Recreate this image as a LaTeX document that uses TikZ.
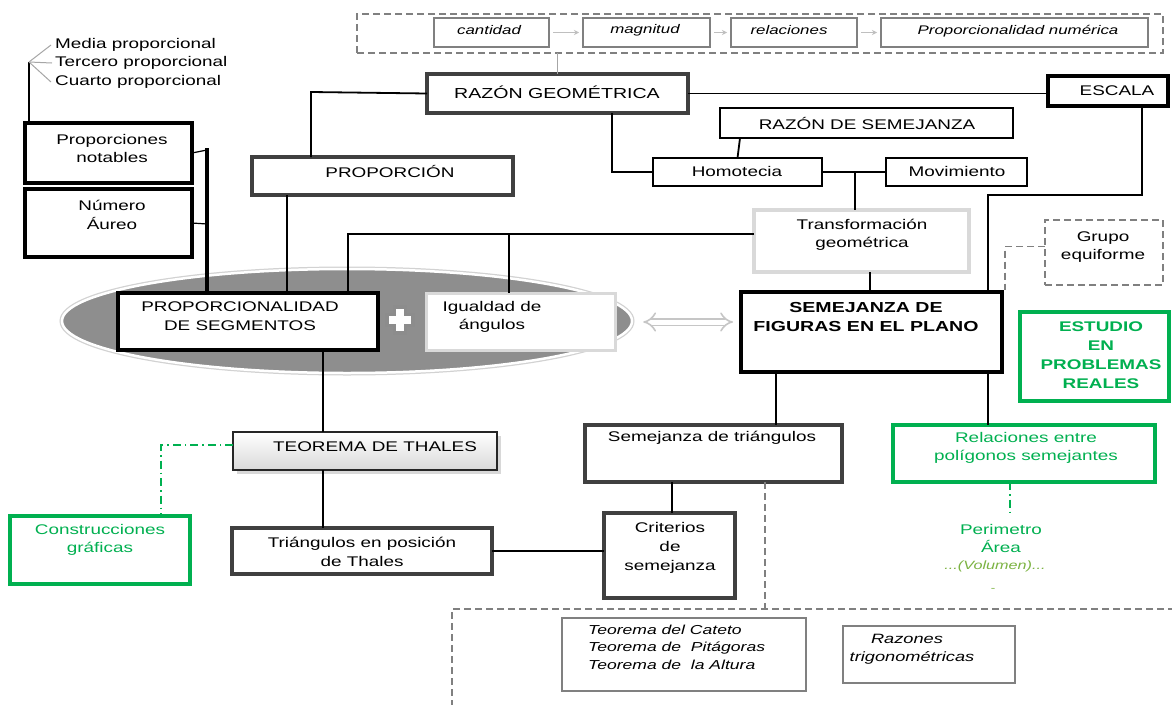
\documentclass[tikz,border=0pt]{standalone}
\usepackage{fontspec}
\setmainfont[FakeStretch=1.35]{Liberation Sans}
\usetikzlibrary{arrows.meta,shapes.geometric,shadows,calc}
\definecolor{darkline}{HTML}{404040}
\definecolor{paleline}{HTML}{D9D9D9}
\definecolor{leafgreen}{HTML}{00B050}
\definecolor{limegreen}{HTML}{7CB342}
\definecolor{linkblue}{HTML}{5B7FA8}
\definecolor{ovalgrey}{HTML}{8E8E8E}
\newcommand\txtsize[1]{\fontsize{#1}{18.5}\selectfont}
\tikzset{
  frame/.style={rectangle, inner sep=0pt, outer sep=0pt},
  heavyfr/.style={frame, draw=black, line width=4.5pt},
  darkfr/.style={frame, draw=darkline, line width=3.5pt},
  thinfr/.style={frame, draw=black, line width=1.8pt},
  palefr/.style={frame, draw=paleline, line width=4pt},
  greenfr/.style={frame, draw=leafgreen, line width=3.5pt},
  greyfr/.style={frame, draw=gray, line width=1.2pt},
  dashfr/.style={frame, draw=gray, line width=1.5pt, dash pattern=on 7pt off 4pt},
  txt/.style={inner sep=0pt, align=center, font=\txtsize{14}},
  itxt/.style={inner sep=0pt, align=center, font=\txtsize{12.5}\itshape},
  link/.style={draw=black, line width=1.8pt},
  heavylink/.style={draw=black, line width=4pt},
  paleln/.style={draw=gray!70, line width=1pt},
  dashln/.style={draw=gray, line width=1.5pt, dash pattern=on 7pt off 4pt},
  greendot/.style={draw=leafgreen, line width=1.5pt, dash pattern=on 8pt off 4pt on 1.5pt off 4pt},
  tinyarrow/.style={draw=gray!50, line width=1pt, -{Stealth[length=5pt,width=5pt]}, shorten <=4pt, shorten >=4pt},
}
\begin{document}
\begin{tikzpicture}[x=1pt,y=-1pt]
\useasboundingbox (0,0) rectangle (1172,704);
\clip (0,0) rectangle (1172,704);
\fill[white] (0,0) rectangle (1172,704);

% chain of notions at the top
\node[dashfr, minimum width=806pt, minimum height=39pt] (topgrp) at (760,33.5) {};
\node[greyfr, minimum width=115pt, minimum height=29pt] (cant) at (491.5,32.5) {};
\node[greyfr, minimum width=127pt, minimum height=29pt] (magn) at (646.5,32.5) {};
\node[greyfr, minimum width=126pt, minimum height=29pt] (rel) at (794,32.5) {};
\node[greyfr, minimum width=267pt, minimum height=29pt] (pnum) at (1014.5,32.5) {};
\node[itxt] (t-cant) at (489,30) {cantidad};
\node[itxt] (t-magn) at (645,30) {magnitud};
\node[itxt] (t-rel) at (789,30) {relaciones};
\node[itxt] (t-pnum) at (1018,31) {Proporcionalidad numérica};
\draw[tinyarrow] (cant.east) -- (magn.west);
\draw[tinyarrow] (magn.east) -- (rel.west);
\draw[tinyarrow] (rel.east) -- (pnum.west);

% notable proportions
\node[txt, anchor=west] (media) at (55,45) {Media proporcional};
\node[txt, anchor=west] (tercero) at (55,63) {Tercero proporcional};
\node[txt, anchor=west] (cuarto) at (55,82) {Cuarto proporcional};
\node[heavyfr, line width=4pt, minimum width=167pt, minimum height=60pt] (notab) at (108.5,153) {};
\node[heavyfr, line width=4pt, minimum width=167pt, minimum height=68pt] (aureo) at (108.5,223) {};
\node[txt] (t-notab) at (112,148.5) {Proporciones\\notables};
\node[txt] (t-aureo) at (112,215) {Número\\Áureo};
\coordinate (fork) at (29,62);
\draw[link, line width=1.5pt] (notab.north -| fork) -- (fork);
\draw[paleln] (fork) -- ($(media.west)+(-4,0)$);
\draw[paleln] (fork) -- ($(tercero.west)+(-3,0)$);
\draw[paleln] (fork) -- ($(cuarto.west)+(-4,0)$);

% ratio and proportion
\node[darkfr, minimum width=261pt, minimum height=39pt] (razon) at (557.5,93.5) {};
\node[txt, font=\txtsize{14.5}] (t-razon) at (557,92) {RAZÓN GEOMÉTRICA};
\node[darkfr, minimum width=261pt, minimum height=38pt] (prop) at (382.5,176) {};
\node[txt] (t-prop) at (390,171) {PROPORCIÓN};
\node[heavyfr, line width=4pt, minimum width=120pt, minimum height=30pt] (escala) at (1108,91) {};
\node[txt] (t-escala) at (1117,91) {ESCALA};
\node[thinfr, minimum width=293pt, minimum height=30pt] (rds) at (866.5,123) {};
\node[txt] (t-rds) at (867,123) {RAZÓN DE SEMEJANZA};
\node[thinfr, minimum width=169pt, minimum height=28pt] (homot) at (737.5,172) {};
\node[txt] (t-homot) at (737,171) {Homotecia};
\node[thinfr, minimum width=141pt, minimum height=28pt] (mov) at (956.5,172) {};
\node[txt] (t-mov) at (957,171) {Movimiento};
\node[palefr, minimum width=215pt, minimum height=62pt] (trans) at (861.5,241) {};
\node[txt] (t-trans) at (862,235) {Transformación\\geométrica};
\node[dashfr, minimum width=118pt, minimum height=65pt] (grupo) at (1104,252.5) {};
\node[txt] (t-grupo) at (1103,247) {Grupo\\equiforme};

% central oval
\node[ellipse, minimum width=570pt, minimum height=104pt, fill=ovalgrey, draw=white, line width=2.5pt,
      preaction={draw=gray!35, line width=5pt}] (oval) at (347,321) {};
\node[heavyfr, fill=white, minimum width=260pt, minimum height=57pt] (propseg) at (248,321.5) {};
\node[txt] (t-propseg) at (240,316) {PROPORCIONALIDAD\\DE SEGMENTOS};
\node[frame, fill=white, draw=paleline, line width=3pt, minimum width=189pt, minimum height=57pt] (igual) at (520.5,321.5) {};
\node[txt] (t-igual) at (492,317) {Igualdad de\\ángulos};
\draw[draw=gray!90, fill=white, line width=3.5pt, shift={(400,320)}]
  (-5.5,-13) -- (5.5,-13) -- (5.5,-5.5) -- (13,-5.5) -- (13,5.5) -- (5.5,5.5) -- (5.5,13)
  -- (-5.5,13) -- (-5.5,5.5) -- (-13,5.5) -- (-13,-5.5) -- (-5.5,-5.5) -- cycle;

% similar figures
\node[heavyfr, fill=white, minimum width=261pt, minimum height=80pt] (sem) at (871.5,332) {};
\node[txt, font=\txtsize{14.5}\bfseries] (t-sem) at (866,317) {SEMEJANZA DE\\FIGURAS EN EL PLANO};
\node[greenfr, minimum width=149pt, minimum height=89pt] (estudio) at (1094.5,356.5) {};
\node[txt, font=\fontsize{14}{19}\selectfont\bfseries, text=leafgreen] (t-estudio) at (1101,355.5) {ESTUDIO\\EN\\PROBLEMAS\\REALES};
\draw[draw=gray!45, line width=1.6pt, double=white, double distance=5pt, {Implies}-{Implies}]
  ($(oval.east)+(10,1)$) -- ($(sem.west)+(-8,-10)$);

% Thales branch
\node[frame, draw=black!85, line width=2pt, top color=white, bottom color=gray!30,
      drop shadow={shadow xshift=4pt, shadow yshift=-4pt, opacity=0.3},
      minimum width=264pt, minimum height=38pt] (thales) at (365,451) {};
\node[txt] (t-thales) at (375,447) {TEOREMA DE THALES};
\node[greenfr, minimum width=180pt, minimum height=68pt] (constr) at (100,550) {};
\node[txt, text=leafgreen] (t-constr) at (100,540) {Construcciones\\gráficas};
\node[darkfr, minimum width=260pt, minimum height=46pt] (triang) at (362,551) {};
\node[txt] (t-triang) at (362,552) {Triángulos en posición\\de Thales};

% triangles branch
\node[darkfr, minimum width=257pt, minimum height=57pt] (semtri) at (713.5,453.5) {};
\node[txt] (t-semtri) at (712,438) {Semejanza de triángulos};
\node[darkfr, minimum width=131pt, minimum height=85pt] (crit) at (669.5,555.5) {};
\node[txt, font=\fontsize{14}{19}\selectfont] (t-crit) at (670,548) {Criterios\\de\\semejanza};
\node[greenfr, minimum width=262pt, minimum height=57pt] (relac) at (1024,453.5) {};
\node[txt, text=leafgreen] (t-relac) at (1026,448) {Relaciones entre\\polígonos semejantes};
\node[txt, text=leafgreen] (t-perim) at (1001,538.5) {Perimetro\\Área};
\node[itxt, font=\txtsize{12}\itshape, text=limegreen] (t-vol) at (995,566) {...(Volumen)...};
\node[txt, font=\txtsize{10}, text=limegreen] (t-dash) at (993,590) {-};

% theorems at the bottom
\node[dashfr, minimum width=728pt, minimum height=103pt] (bgrp) at (816,660.5) {};
\node[greyfr, minimum width=244pt, minimum height=73pt] (teor) at (684,654.5) {};
\node[itxt, font=\fontsize{13}{17.5}\selectfont\itshape, align=left, anchor=west] (t-teor) at (588,647)
  {Teorema del Cateto\\Teorema de~ Pitágoras\\Teorema de~ la Altura};
\node[greyfr, minimum width=172pt, minimum height=57pt] (trig) at (929,654.5) {};
\node[itxt, font=\fontsize{13.5}{18}\selectfont\itshape] (t-trig) at (912,649) {\hspace*{-10pt}Razones\\trigonométricas};

% junction points of the connectors
\coordinate (jprop) at (311,92);
\coordinate (jhom) at (612,150);
\coordinate (jmov) at (855,172);
\coordinate (jtr) at (348,234);
\coordinate (jig) at (509,234);
\coordinate (jsem) at (870,280);
\coordinate (jesc) at (1142,195);
\coordinate (jsemr) at (988,195);
\coordinate (jgrp) at (1005,290);
\coordinate (jleft) at (207,148);
\coordinate (jpp) at (287,250);
\coordinate (jth) at (323,400);
\coordinate (jco) at (161,445);
\coordinate (jst) at (776,400);
\coordinate (jcr) at (672,500);
\coordinate (jbt) at (765,540);
\coordinate (jre) at (1010,512);

% connectors
\draw[paleln] (razon.north |- topgrp.south) -- (razon.north);
\draw[link] (razon.west) -- (jprop) -- (jprop |- prop.north);
\draw[link] (razon.south -| jhom) |- (homot.west);
\draw[link] (razon.east) -- (razon.east -| escala.west);
\draw[link] ($(rds.south west)+(20,0)$) -- (homot.north);
\draw[link] (homot.east) -- (mov.west);
\draw[link] (jmov) -- (jmov |- trans.north);
\draw[link] (jtr -| trans.west) -- (jtr) -- (jtr |- propseg.north);
\draw[link] (jig) -- (jig |- igual.north);
\draw[link] (trans.south -| jsem) -- (jsem |- sem.north);
\draw[link] (escala.south -| jesc) -- (jesc) -- (jsemr) -- (jsemr |- sem.north);
\draw[link] (sem.south -| jsemr) -- (jsemr |- relac.north);
\draw[dashln] ($(grupo.west)+(0,-6)$) -| (jgrp);
\draw[draw=linkblue, line width=1.2pt] ($(sem.east)+(0,-12)$) -- ($(sem.east)+(0,-12)$ -| estudio.west);
\draw[heavylink] (jleft) -- (jleft |- propseg.north);
\draw[link, line width=1.2pt] (notab.east) -- ($(jleft)+(0,2)$);
\draw[link, line width=1.2pt] (aureo.east) -- ($(jleft)+(0,76)$);
\draw[link] (prop.south -| jpp) -- (jpp |- propseg.north);
\draw[link] (propseg.south -| jth) -- (jth |- thales.north);
\draw[link] (thales.south -| jth) -- (jth |- triang.north);
\draw[greendot] (jco -| thales.west) -- (jco) -- (jco |- constr.north);
\draw[link] (triang.east) -- (triang.east -| crit.west);
\draw[link] (sem.south -| jst) -- (jst |- semtri.north);
\draw[link] (semtri.south -| jcr) -- (jcr |- crit.north);
\draw[dashln] (semtri.south -| jbt) -- (jbt |- bgrp.north);
\draw[greendot] (relac.south -| jre) -- (jre);
\end{tikzpicture}
\end{document}
